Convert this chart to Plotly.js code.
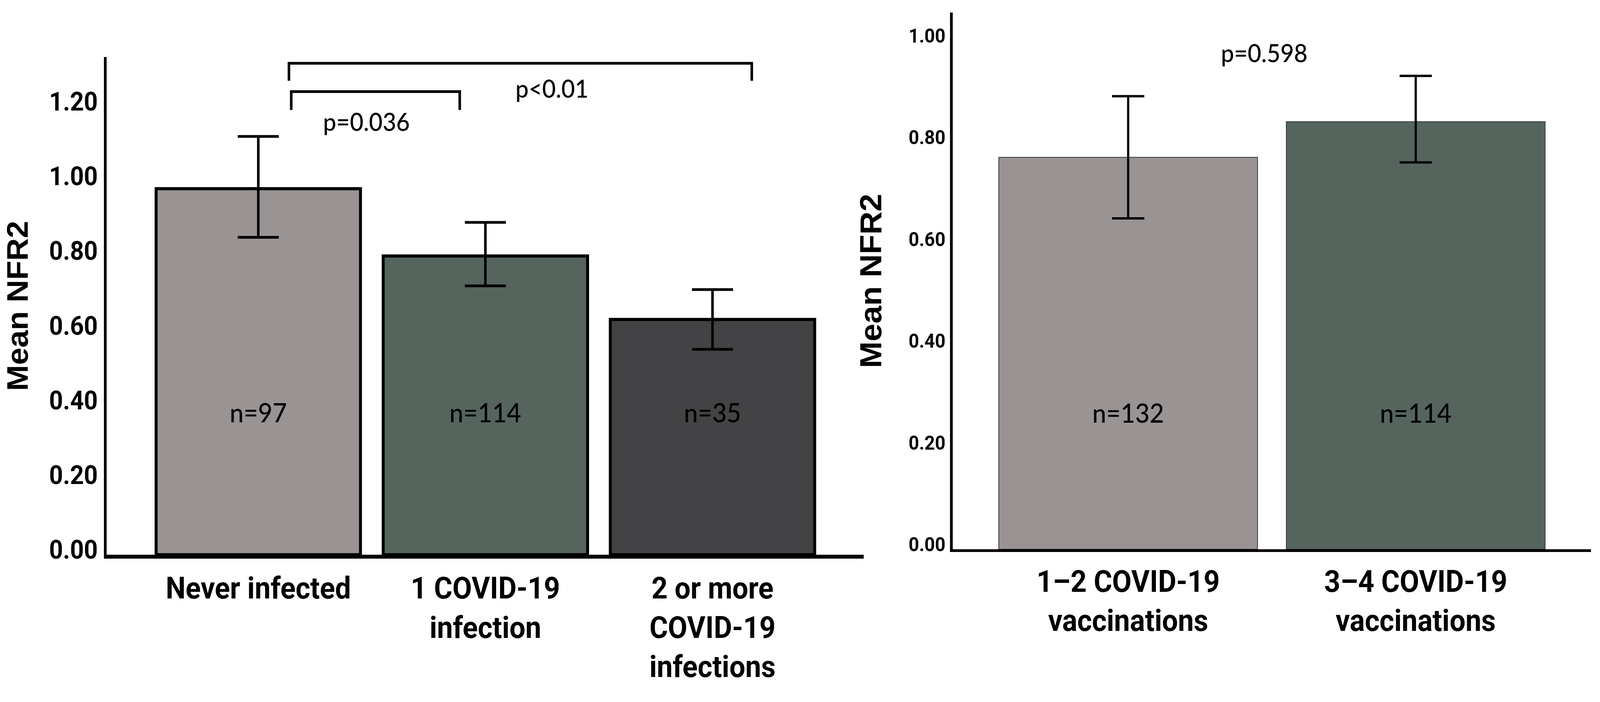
<!DOCTYPE html>
<html>
<head>
<meta charset="utf-8">
<script src="https://cdn.plot.ly/plotly-3.0.1.min.js"></script>
<style>
html,body{margin:0;padding:0;background:#fff;overflow:hidden;}
#chart{width:4368px;height:1797px;transform-origin:0 0;}
</style>
</head>
<body>
<div id="chart"></div>
<script>
// ---- Data: infections panel ----
const infCategories = ['Never infected', '1 COVID-19<br>infection', '2 or more<br>COVID-19<br>infections'];
const infMeans = [0.98, 0.80, 0.63];
const infCILow = [0.85, 0.72, 0.55];
const infCIHigh = [1.12, 0.89, 0.71];
const infN = [97, 114, 35];
const infColors = ['#999393', '#55655e', '#434346'];

// ---- Data: vaccinations panel ----
const vacCategories = ['1\u20132 COVID-19<br>vaccinations', '3\u20134 COVID-19<br>vaccinations'];
const vacMeans = [0.77, 0.84];
const vacCILow = [0.65, 0.76];
const vacCIHigh = [0.89, 0.93];
const vacN = [132, 114];
const vacColors = ['#999393', '#55655e'];

// ---- Significance labels ----
const pInfInner = 'p=0.036';
const pInfOuter = 'p<0.01';
const pVac = 'p=0.598';

// fit the 4368x1797 drawing into whatever the viewport really is
const W = 4368, H = 1797;
const sx = window.innerWidth / W, sy = window.innerHeight / H;
if (sx && sy && (Math.abs(sx - 1) > 0.001 || Math.abs(sy - 1) > 0.001)) {
  document.getElementById('chart').style.transform = 'scale(' + sx + ',' + sy + ')';
}

const NARROW = 'Roboto, "Liberation Sans", sans-serif';
const HUMAN = 'Lato, Roboto, sans-serif';
const WIDE = '"Liberation Sans", Arial, sans-serif';

const trace1 = {
  type: 'bar', x: infCategories, y: infMeans, xaxis: 'x', yaxis: 'y',
  width: 0.9,
  marker: {color: infColors, line: {color: '#000', width: 8}},
  error_y: {type: 'data', symmetric: false,
    array: infCIHigh.map((h, i) => h - infMeans[i]),
    arrayminus: infCILow.map((l, i) => infMeans[i] - l),
    color: '#000', thickness: 7, width: 56},
  showlegend: false, hoverinfo: 'skip'
};
const trace2 = {
  type: 'bar', x: vacCategories, y: vacMeans, xaxis: 'x2', yaxis: 'y2',
  width: 0.9,
  marker: {color: vacColors, line: {color: '#333', width: 2}},
  error_y: {type: 'data', symmetric: false,
    array: vacCIHigh.map((h, i) => h - vacMeans[i]),
    arrayminus: vacCILow.map((l, i) => vacMeans[i] - l),
    color: '#000', thickness: 6, width: 44},
  showlegend: false, hoverinfo: 'skip'
};

const annotations = [];
infN.forEach((n, i) => annotations.push({
  xref: 'x', yref: 'y', x: i, y: 0.382, text: 'n=' + n, showarrow: false,
  font: {family: HUMAN, size: 68, color: '#000', weight: 500}
}));
vacN.forEach((n, i) => annotations.push({
  xref: 'x2', yref: 'y2', x: i, y: 0.269, text: 'n=' + n, showarrow: false,
  font: {family: HUMAN, size: 68, color: '#000', weight: 500}
}));
annotations.push({xref: 'x', yref: 'y', x: 0.477, y: 1.161, text: pInfInner, showarrow: false,
  font: {family: HUMAN, size: 64, color: '#000', weight: 500}});
annotations.push({xref: 'x', yref: 'y', x: 1.294, y: 1.249, text: pInfOuter, showarrow: false,
  font: {family: HUMAN, size: 64, color: '#000', weight: 500}});
annotations.push({xref: 'x2', yref: 'y2', x: 0.474, y: 0.976, text: pVac, showarrow: false,
  font: {family: HUMAN, size: 64, color: '#000', weight: 500}});

const shapes = [
  {type: 'path', xref: 'x', yref: 'y', path: 'M 0.135,1.269 L 0.135,1.316 L 2.173,1.316 L 2.173,1.269',
   line: {color: '#000', width: 7}},
  {type: 'path', xref: 'x', yref: 'y', path: 'M 0.145,1.191 L 0.145,1.240 L 0.887,1.240 L 0.887,1.191',
   line: {color: '#000', width: 7}}
];

const layout = {
  width: W, height: H,
  margin: {l: 0, r: 0, t: 0, b: 0},
  paper_bgcolor: '#fff', plot_bgcolor: '#fff',
  showlegend: false,
  xaxis: {
    domain: [0.06662, 0.53984], range: [-0.668, 2.666], type: 'category',
    showline: true, linecolor: '#000', linewidth: 10, showgrid: false, zeroline: false,
    ticks: '', ticklabelstandoff: 10, tickangle: 0,
    tickfont: {family: NARROW, size: 77, color: '#000', weight: 'bold'},
    anchor: 'y', fixedrange: true
  },
  yaxis: {
    domain: [0.20979, 0.91875], range: [0, 1.3326],
    showline: true, linecolor: '#000', linewidth: 7, showgrid: false, zeroline: false,
    ticks: '', tick0: 0, dtick: 0.2, tickformat: '.2f', ticklabelstandoff: 4, ticklabelshift: -13,
    tickfont: {family: NARROW, size: 66, color: '#000', weight: 'bold'},
    title: {text: 'Mean NFR2', font: {family: WIDE, size: 80, color: '#000', weight: 'bold'}, standoff: 34},
    anchor: 'x', fixedrange: true
  },
  xaxis2: {
    domain: [0.59547, 0.99428], range: [-0.610, 1.609], type: 'category',
    showline: true, linecolor: '#000', linewidth: 7, showgrid: false, zeroline: false,
    ticks: '', ticklabelstandoff: 10, tickangle: 0,
    tickfont: {family: NARROW, size: 77, color: '#000', weight: 'bold'},
    anchor: 'y2', fixedrange: true
  },
  yaxis2: {
    domain: [0.21759, 0.98219], range: [0, 1.0545],
    showline: true, linecolor: '#000', linewidth: 8, showgrid: false, zeroline: false,
    ticks: '', tick0: 0, dtick: 0.2, tickformat: '.2f', ticklabelstandoff: 2, ticklabelshift: -12,
    tickfont: {family: NARROW, size: 50, color: '#000', weight: 'bold'},
    title: {text: 'Mean NFR2', font: {family: WIDE, size: 82, color: '#000', weight: 'bold'}, standoff: 50},
    anchor: 'x2', fixedrange: true
  },
  annotations: annotations,
  shapes: shapes
};

Plotly.newPlot('chart', [trace1, trace2], layout, {staticPlot: true, displayModeBar: false});
</script>
</body>
</html>
